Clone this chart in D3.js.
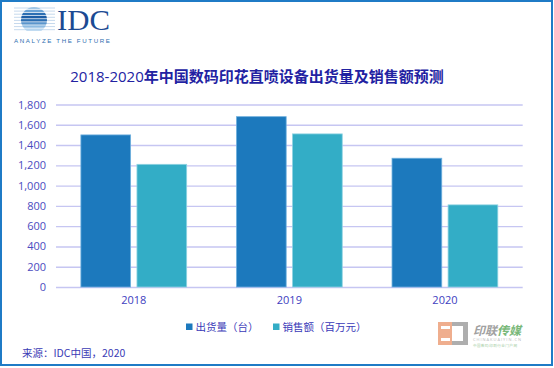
<!DOCTYPE html>
<html><head><meta charset="utf-8">
<script src="https://cdn.jsdelivr.net/npm/d3@7"></script>
<style>body{margin:0;background:#fff;}svg{display:block;}</style>
</head><body>
<svg id="c" width="554" height="368"></svg>
<script>
const years = ["2018", "2019", "2020"];
const seriesNames = ["出货量（台）", "销售额（百万元）"];
const shipments = [1500, 1680, 1270];
const sales = [1210, 1510, 810];
const yTicks = [0, 200, 400, 600, 800, 1000, 1200, 1400, 1600, 1800];
const colors = ["#1c79bd", "#33adc6"];
const titleNum = "2018-2020";
const titleText = "年中国数码印花直喷设备出货量及销售额预测";
const sourceText = "来源：IDC中国，2020";

const svg = d3.select("#c");
const cjk = "'Noto Sans CJK SC','Noto Sans',sans-serif";
const lat = "'Open Sans','Noto Sans CJK SC',sans-serif";

// frame
svg.append("rect").attr("x",1).attr("y",1).attr("width",551).attr("height",364)
  .attr("fill","none").attr("stroke","#1f7bc6").attr("stroke-width",2);

// IDC logo
const logo = svg.append("g");
const stripeCols = ["#9fc6e6","#6aa3d6","#2c6fb3","#1d5ea6","#2c6fb3","#5a95cc","#8dbbe2","#b5d4ee"];
const clipId = "lc";
svg.append("defs").append("clipPath").attr("id",clipId).append("circle").attr("cx",34).attr("cy",20).attr("r",13);
for (let i=0;i<8;i++){
  const yy = 8 + i*3.1;
  logo.append("line").attr("x1",14).attr("x2",55).attr("y1",yy).attr("y2",yy)
    .attr("stroke","#b7cfe8").attr("stroke-width",0.8);
  logo.append("rect").attr("x",20).attr("y",yy-1.3).attr("width",28).attr("height",2.4)
    .attr("fill",stripeCols[i]).attr("clip-path","url(#"+clipId+")");
}
logo.append("text").attr("x",57).attr("y",30).text("IDC")
  .attr("font-family","'Liberation Serif','DejaVu Serif',serif").attr("font-size",29)
  .attr("fill","#1b4a93").attr("textLength",53).attr("lengthAdjust","spacingAndGlyphs");
logo.append("text").attr("x",14).attr("y",43).text("ANALYZE THE FUTURE")
  .attr("font-family","'Liberation Sans',sans-serif").attr("font-size",6.2)
  .attr("fill","#2f6fb0").attr("textLength",96).attr("lengthAdjust","spacing");

// title
const t = svg.append("text").attr("x",257).attr("y",82).attr("text-anchor","middle")
  .attr("font-family",cjk).attr("font-size",15).attr("fill","#2222a2");
t.append("tspan").text(titleNum).attr("font-family",lat);
t.append("tspan").text(titleText).attr("font-weight","bold");

// scales
const x0 = d3.scaleBand().domain(years).range([56, 522.7]).paddingInner(0.32).paddingOuter(0.16);
const x1 = d3.scaleBand().domain(seriesNames).range([0, x0.bandwidth()]).paddingInner(0.113).paddingOuter(0);
const y = d3.scaleLinear().domain([0, 1800]).range([287, 104.5]);

// grid + y axis
const yAxis = svg.append("g").attr("transform","translate(56,0)")
  .call(d3.axisLeft(y).tickValues(yTicks).tickSize(-466.7).tickPadding(10).tickFormat(d3.format(",")));
yAxis.select(".domain").remove();
yAxis.selectAll("line").attr("stroke","#c6c6f2").attr("stroke-width",1.4);
yAxis.selectAll("text").attr("font-family",lat).attr("font-size",11).attr("fill","#4b4bc0");

// bars
const data = years.map((yr,i)=>({year:yr, vals:[shipments[i], sales[i]]}));
const g = svg.append("g").selectAll("g").data(data).join("g")
  .attr("transform", d=>`translate(${x0(d.year)},0)`);
g.selectAll("rect").data(d=>d.vals.map((v,j)=>({k:seriesNames[j], v, j}))).join("rect")
  .attr("x", d=>x1(d.k)).attr("width", x1.bandwidth())
  .attr("y", d=>y(d.v)).attr("height", d=>y(0)-y(d.v))
  .attr("fill", d=>colors[d.j])
  .attr("stroke", d=> d.j===0 ? "#6fb0de" : "#8fd3e2").attr("stroke-width",0.8);

// x labels
const xAxis = svg.append("g").attr("transform","translate(0,287)")
  .call(d3.axisBottom(x0).tickSize(0).tickPadding(9));
xAxis.select(".domain").remove();
xAxis.selectAll("text").attr("font-family",lat).attr("font-size",11).attr("fill","#4040c0");

// legend
const legX = [186, 273];
seriesNames.forEach((n,i)=>{
  svg.append("rect").attr("x",legX[i]).attr("y",323.5).attr("width",6.5).attr("height",6.5).attr("fill",colors[i]);
  svg.append("text").attr("x",legX[i]+9.5).attr("y",331).text(n)
    .attr("font-family",cjk).attr("font-size",10.5).attr("fill","#3a3ab8");
});

// source
svg.append("text").attr("x",22).attr("y",357).text(sourceText)
  .attr("font-family",cjk).attr("font-size",10.5).attr("fill","#3b3bb5");

// watermark
const w = svg.append("g").attr("opacity",0.8);
w.append("rect").attr("x",438).attr("y",322).attr("width",14).attr("height",23).attr("fill","#ec9b73");
w.append("rect").attr("x",441).attr("y",326).attr("width",9).attr("height",3).attr("fill","#ffffff");
w.append("rect").attr("x",441).attr("y",338).attr("width",9).attr("height",3).attr("fill","#ffffff");
w.append("rect").attr("x",452).attr("y",322).attr("width",16).attr("height",23).attr("fill","#9a9a9a");
w.append("rect").attr("x",452).attr("y",326).attr("width",11).attr("height",15).attr("fill","#ffffff");
w.append("text").attr("x",473).attr("y",335).text("印联").attr("font-family",cjk).attr("font-weight","bold")
  .attr("font-size",12).attr("fill","#8a8a8a").attr("font-style","italic");
w.append("text").attr("x",497).attr("y",335).text("传媒").attr("font-family",cjk).attr("font-weight","bold")
  .attr("font-size",12).attr("fill","#5aa85a").attr("font-style","italic");
w.append("text").attr("x",473).attr("y",341).text("CHINAKUAIYIN.CN").attr("font-family",lat)
  .attr("font-size",4).attr("fill","#aaaaaa").attr("textLength",48);
w.append("text").attr("x",473).attr("y",346.5).text("中国数码印刷行业门户网").attr("font-family",cjk)
  .attr("font-size",3.6).attr("fill","#8cbf8c").attr("textLength",44);
</script>
</body></html>
